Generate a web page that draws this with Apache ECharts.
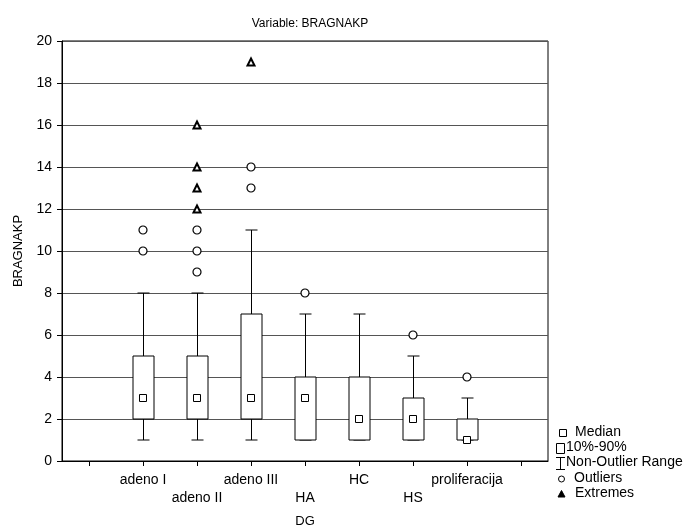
<!DOCTYPE html>
<html>
<head>
<meta charset="utf-8">
<script src="https://cdn.jsdelivr.net/npm/echarts@6/dist/echarts.min.js"></script>
<style>
  html, body { margin: 0; padding: 0; background: #fff; }
  #chart { width: 699px; height: 527px; }
</style>
</head>
<body>
<div id="chart"></div>
<script>
// groups on the DG axis (blank slots left and right, as in the original)
const groups = ["adeno I", "adeno II", "adeno III", "HA", "HC", "HS", "proliferacija"];
const axisCats = [""].concat(groups, [" "]);

// non-outlier range and 10%-90% box per group
const whiskerLow  = [1, 1, 1, 1, 1, 1, 1];
const boxLow      = [2, 2, 2, 1, 1, 1, 1];
const medians     = [3, 3, 3, 3, 2, 2, 1];
const boxHigh     = [5, 5, 7, 4, 4, 3, 2];
const whiskerHigh = [8, 8, 11, 7, 7, 5, 3];

// outliers and extremes: [group, value]
const outliers = [
  ["adeno I", 10], ["adeno I", 11],
  ["adeno II", 9], ["adeno II", 10], ["adeno II", 11],
  ["adeno III", 13], ["adeno III", 14],
  ["HA", 8], ["HS", 6], ["proliferacija", 4]
];
const extremes = [
  ["adeno II", 12], ["adeno II", 13], ["adeno II", 14], ["adeno II", 16],
  ["adeno III", 19]
];

const yTicks = { min: 0, max: 20, step: 2 };
const font = "Liberation Sans, Arial, sans-serif";

const boxData = groups.map((g, i) => [g, whiskerLow[i], boxLow[i], boxHigh[i], whiskerHigh[i]]);
const medianData = groups.map((g, i) => [g, medians[i]]);

function renderBox(params, api) {
  const cat = api.value(0);
  const pLow = api.coord([cat, api.value(1)]);
  const pBoxLow = api.coord([cat, api.value(2)]);
  const pBoxHigh = api.coord([cat, api.value(3)]);
  const pHigh = api.coord([cat, api.value(4)]);
  const x = Math.round(pLow[0]) + 0.5;
  const bw = 21, cw = 12;
  const line = { stroke: "#000", lineWidth: 1 };
  return {
    type: "group",
    children: [
      { type: "line", shape: { x1: x, y1: pHigh[1], x2: x, y2: pBoxHigh[1] }, style: line },
      { type: "line", shape: { x1: x - cw / 2, y1: pHigh[1], x2: x + cw / 2, y2: pHigh[1] }, style: line },
      { type: "line", shape: { x1: x, y1: pBoxLow[1], x2: x, y2: pLow[1] }, style: line },
      { type: "line", shape: { x1: x - cw / 2, y1: pLow[1], x2: x + cw / 2, y2: pLow[1] }, style: line },
      {
        type: "rect",
        shape: { x: x - bw / 2, y: pBoxHigh[1], width: bw, height: pBoxLow[1] - pBoxHigh[1] },
        style: { fill: "#fff", stroke: "#000", lineWidth: 1 }
      }
    ]
  };
}

// legend drawn with graphic elements (bottom right)
const legendText = (x, y, t) => ({
  type: "text", left: x, top: y - 8,
  style: { text: t, fill: "#000", font: "14px " + font }
});
const legendGraphics = [
  { type: "rect", shape: { x: 559.5, y: 429.5, width: 7, height: 7 }, style: { fill: "#fff", stroke: "#000", lineWidth: 1 } },
  legendText(575, 433, "Median"),
  { type: "rect", shape: { x: 556.5, y: 443.5, width: 8, height: 10 }, style: { fill: "#fff", stroke: "#000", lineWidth: 1 } },
  legendText(566, 448, "10%-90%"),
  { type: "line", shape: { x1: 560.5, y1: 457, x2: 560.5, y2: 470 }, style: { stroke: "#000", lineWidth: 1 } },
  { type: "line", shape: { x1: 556, y1: 457.5, x2: 565, y2: 457.5 }, style: { stroke: "#000", lineWidth: 1 } },
  { type: "line", shape: { x1: 556, y1: 469.5, x2: 565, y2: 469.5 }, style: { stroke: "#000", lineWidth: 1 } },
  legendText(566, 463, "Non-Outlier Range"),
  { type: "circle", shape: { cx: 561.5, cy: 479, r: 3 }, style: { fill: "#fff", stroke: "#000", lineWidth: 1 } },
  legendText(574, 479, "Outliers"),
  { type: "polygon", shape: { points: [[561.5, 490.5], [565, 497], [558, 497]] }, style: { fill: "#000", stroke: "#000", lineWidth: 1 } },
  legendText(575, 494, "Extremes")
];

const chart = echarts.init(document.getElementById("chart"));
chart.setOption({
  animation: false,
  backgroundColor: "#fff",
  textStyle: { fontFamily: font },
  title: {
    text: "Variable: BRAGNAKP",
    left: 305, top: 13, textAlign: "center",
    textStyle: { fontSize: 12, fontWeight: "normal", color: "#000", fontFamily: font }
  },
  grid: {
    left: 62, right: 151, top: 41, bottom: 66,
    outerBoundsMode: "none",
    show: true, borderColor: "#000", borderWidth: 1, backgroundColor: "transparent"
  },
  xAxis: {
    type: "category",
    data: axisCats,
    name: "DG",
    nameLocation: "middle",
    nameGap: 54,
    nameTextStyle: { fontSize: 13, color: "#000", fontFamily: font },
    axisLine: { lineStyle: { color: "#000", width: 1 } },
    axisTick: { show: true, alignWithLabel: true, interval: 0, length: 5, lineStyle: { color: "#000" } },
    axisLabel: {
      interval: 0, fontSize: 14, color: "#000", margin: 10, lineHeight: 18,
      formatter: (v, i) => (i % 2 === 0 ? "\n" + v : v)
    },
    splitLine: { show: false }
  },
  yAxis: {
    type: "value",
    min: yTicks.min, max: yTicks.max, interval: yTicks.step,
    name: "BRAGNAKP",
    nameLocation: "middle",
    nameGap: 37,
    nameTextStyle: { fontSize: 13, color: "#000", fontFamily: font },
    axisLine: { show: true, lineStyle: { color: "#000", width: 1 } },
    axisTick: { show: true, length: 5, lineStyle: { color: "#000" } },
    axisLabel: { fontSize: 14, color: "#000", margin: 10 },
    splitLine: { show: true, lineStyle: { color: "#555", width: 1 } }
  },
  graphic: legendGraphics,
  series: [
    {
      type: "custom",
      renderItem: renderBox,
      data: boxData,
      encode: { x: 0, y: [1, 2, 3, 4] },
      z: 2
    },
    {
      type: "scatter",
      data: medianData,
      symbol: "rect",
      symbolSize: 7,
      itemStyle: { color: "#fff", borderColor: "#000", borderWidth: 1, opacity: 1 },
      z: 3
    },
    {
      type: "scatter",
      data: outliers,
      symbol: "circle",
      symbolSize: 8,
      itemStyle: { color: "#fff", borderColor: "#000", borderWidth: 1.2, opacity: 1 },
      z: 3
    },
    {
      type: "scatter",
      data: extremes,
      symbol: "triangle",
      symbolSize: 7,
      itemStyle: { color: "#fff", borderColor: "#000", borderWidth: 2, opacity: 1 },
      z: 3
    }
  ]
});
</script>
</body>
</html>
